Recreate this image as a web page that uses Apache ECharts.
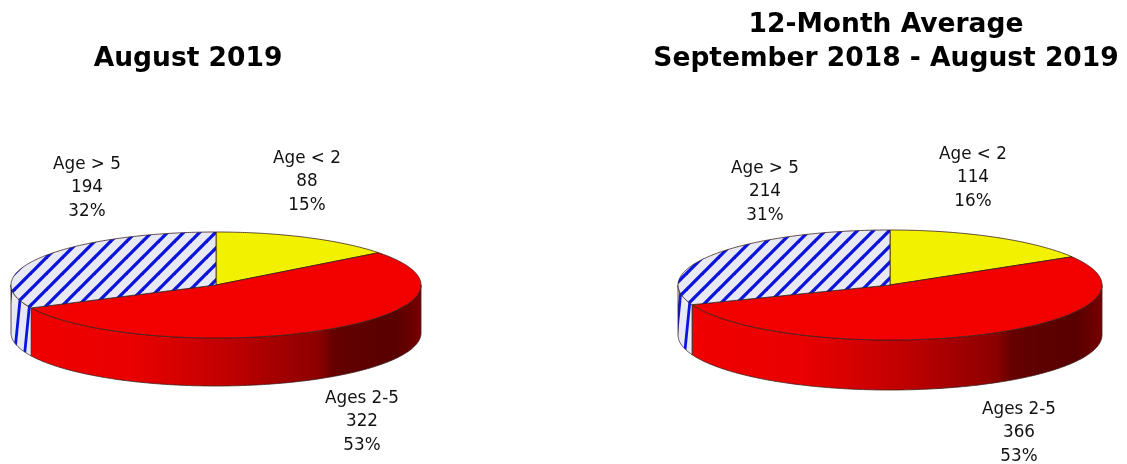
<!DOCTYPE html>
<html><head><meta charset="utf-8">
<style>html,body{margin:0;padding:0;background:#fff}#c{width:1127px;height:464px}</style>
<script src="https://cdn.jsdelivr.net/npm/echarts@6/dist/echarts.min.js"></script>
</head><body><div id="c"></div>
<script>
const categories = ['Age < 2', 'Ages 2-5', 'Age > 5'];
const augustValues = [88, 322, 194];
const averageValues = [114, 366, 214];
const chartTitles = ['August 2019', '12-Month Average\nSeptember 2018 - August 2019'];

const layouts = [
  {cx:216, cy:285, rx:205, ry:53, depth:48, title:[188,42],
   labels:[[307,158.5],[362,398.5],[87,164.5]]},
  {cx:890, cy:285, rx:212, ry:55, depth:50, title:[886,8],
   labels:[[973,154.5],[1019,409.5],[765,168.5]]}
];

function tile(w,h,draw){
  const c=document.createElement('canvas');c.width=w;c.height=h;
  const g=c.getContext('2d');g.fillStyle='#e9e9f3';g.fillRect(0,0,w,h);
  g.strokeStyle='#0a14e0';draw(g);return c;
}
const topHatch = tile(16,16,g=>{g.lineWidth=3.3;
  for(const o of [-16,0,16]){g.beginPath();g.moveTo(o-2,18);g.lineTo(o+18,-2);g.stroke();}
});
const sideHatch = tile(10,100,g=>{g.lineWidth=2.8;
  for(const o of [-10,0,10]){g.beginPath();g.moveTo(o,100);g.lineTo(o+10,0);g.stroke();}
});
const topFills = ['#f2f200','#f20000',{image:topHatch,repeat:'repeat'}];
function sideFill(i,L){
  if(i===2) return {image:sideHatch,repeat:'repeat'};
  return new echarts.graphic.LinearGradient(L.cx-L.rx,0,L.cx+L.rx,0,[
    {offset:.05,color:'#f00000'},{offset:.29,color:'#ea0000'},{offset:.53,color:'#c00000'},
    {offset:.75,color:'#8c0000'},{offset:.79,color:'#640000'},{offset:.94,color:'#580000'},{offset:1,color:'#780000'}],true);
}
const pt=(L,a,dy)=>[L.cx+L.rx*Math.sin(a),L.cy-L.ry*Math.cos(a)+(dy||0)];
function arc(L,a,b,dy){
  const n=Math.max(2,Math.ceil(Math.abs(b-a)/0.01)),out=[];
  for(let k=0;k<=n;k++) out.push(pt(L,a+(b-a)*k/n,dy));
  return out;
}
function makeSeries(values,L){
  const total=values.reduce((a,b)=>a+b,0);
  return {
    type:'custom',coordinateSystem:'none',silent:true,
    data:values.map(v=>[v]),
    renderItem(params,api){
      const i=params.dataIndex,v=api.value(0);
      let before=0;for(let k=0;k<i;k++)before+=values[k];
      const a=before/total*2*Math.PI,b=(before+v)/total*2*Math.PI;
      const children=[];
      const sa=Math.max(a,Math.PI/2),sb=Math.min(b,Math.PI*1.5);
      if(sb>sa){
        children.push({type:'polygon',z2:1,shape:{points:arc(L,sa,sb,0).concat(arc(L,sb,sa,L.depth))},
          style:{fill:sideFill(i,L),stroke:'#3a2020',lineWidth:.8}});
      }
      children.push({type:'polygon',z2:2,shape:{points:[[L.cx,L.cy]].concat(arc(L,a,b,0))},
        style:{fill:topFills[i],stroke:'#3a2020',lineWidth:.8}});
      const [lx,ly]=L.labels[i];
      const pct=Math.round(v/total*100)+'%';
      children.push({type:'text',z2:3,style:{x:lx,y:ly+23.4,text:categories[i]+'\n'+v+'\n'+pct,
        align:'center',verticalAlign:'middle',fill:'#111',lineHeight:23.4,
        font:'16.8px "DejaVu Sans"'}});
      return {type:'group',children};
    }
  };
}
const chart=echarts.init(document.getElementById('c'),null,{renderer:'canvas'});
chart.setOption({
  animation:false,backgroundColor:'#fff',
  title:chartTitles.map((t,i)=>({text:t,left:layouts[i].title[0],top:layouts[i].title[1],padding:0,
    textAlign:'center',textStyle:{fontFamily:'DejaVu Sans',fontWeight:'bold',fontSize:26.5,color:'#000',lineHeight:34}})),
  series:[makeSeries(augustValues,layouts[0]),makeSeries(averageValues,layouts[1])]
});
</script></body></html>
